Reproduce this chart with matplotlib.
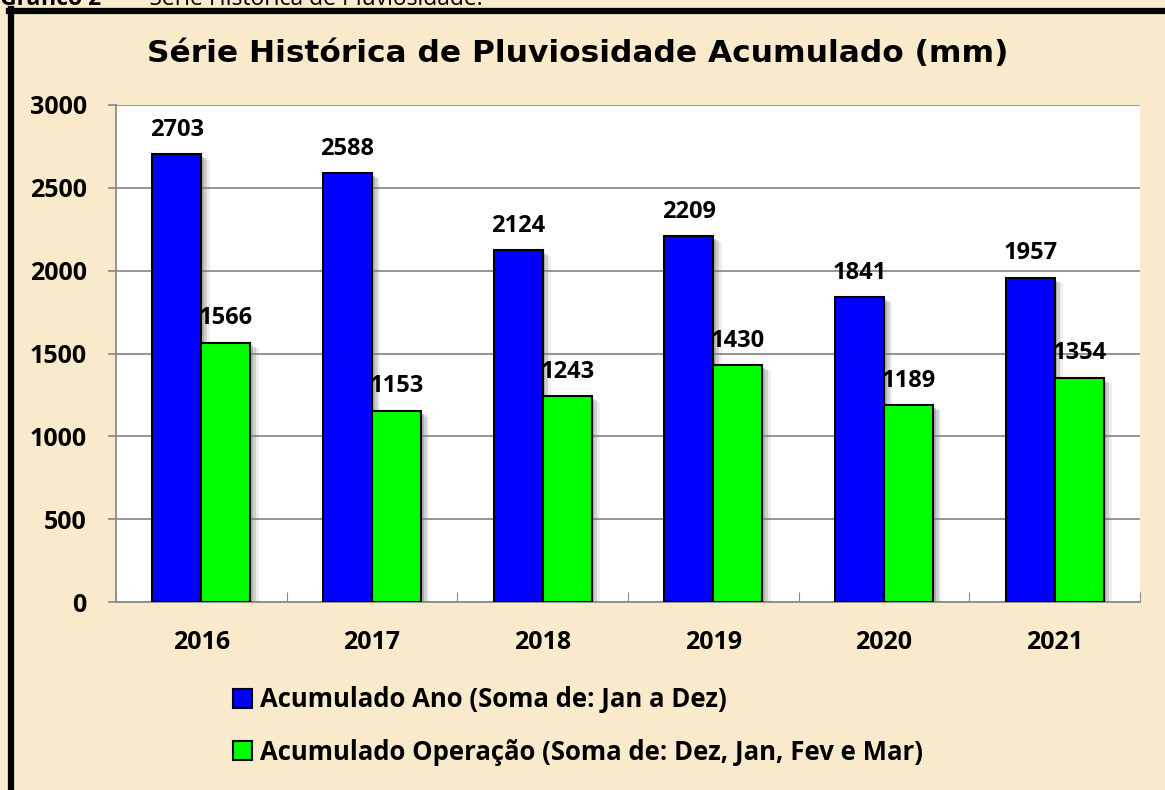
import matplotlib.pyplot as plt
import matplotlib.patheffects as pe
from matplotlib.lines import Line2D
import numpy as np

# data
anos = ["2016", "2017", "2018", "2019", "2020", "2021"]
acum_ano = [2703, 2588, 2124, 2209, 1841, 1957]
acum_operacao = [1566, 1153, 1243, 1430, 1189, 1354]
nome_ano = "Acumulado Ano (Soma de: Jan a Dez)"
nome_operacao = "Acumulado Operação (Soma de: Dez, Jan, Fev e Mar)"

W, H = 1165, 790
fig = plt.figure(figsize=(W / 100, H / 100), dpi=100)
fig.patch.set_facecolor("#F8EACB")

lab_font = "Open Sans"

# caption, cut off at top of the page
fig.text(0.0, 1 - 5 / H, "Gráfico 2", fontsize=16.5, fontweight="bold",
         family=lab_font, va="baseline", ha="left")
fig.text(126 / W, 1 - 5 / H, "–  Série Histórica de Pluviosidade.", fontsize=16.5,
         family=lab_font, va="baseline", ha="left")

# black frame (top and left)
fig.add_artist(Line2D([9 / W, 1], [1 - 11 / H, 1 - 11 / H], color="black", lw=4.5))
fig.add_artist(Line2D([11 / W, 11 / W], [0, 1 - 9 / H], color="black", lw=4.5))

ax = fig.add_axes([116 / W, 1 - 602 / H, (1140 - 116) / W, (602 - 105) / H])
ax.set_facecolor("white")

x = np.arange(len(anos))
w = 0.287
shadow = [pe.SimplePatchShadow(offset=(2, -2), shadow_rgbFace="#777777", alpha=0.35),
          pe.SimplePatchShadow(offset=(4, -3), shadow_rgbFace="#777777", alpha=0.25),
          pe.SimplePatchShadow(offset=(6, -4), shadow_rgbFace="#777777", alpha=0.12),
          pe.Normal()]
b1 = ax.bar(x - w / 2, acum_ano, w, color="#0000FF", edgecolor="black", lw=1.5,
            zorder=3, path_effects=shadow, label=nome_ano)
b2 = ax.bar(x + w / 2, acum_operacao, w, color="#00FF00", edgecolor="black", lw=1.5,
            zorder=3, path_effects=shadow, label=nome_operacao)

for bars in (b1, b2):
    for r in bars:
        ax.annotate(f"{int(r.get_height())}", (r.get_x() + r.get_width() / 2, r.get_height()),
                    xytext=(0, 9), textcoords="offset points", ha="center", va="bottom",
                    fontsize=17, fontweight="bold", family=lab_font, zorder=5)

ax.set_xlim(-0.5, len(anos) - 0.5)
ax.set_ylim(0, 3000)
ax.set_yticks(range(0, 3001, 500))
ax.yaxis.grid(True, color="#8C8C8C", lw=1.3, zorder=0)
ax.set_axisbelow(True)

ax.set_xticks(np.arange(-0.5, len(anos), 1.0))
ax.set_xticklabels([])
ax.set_xticks(x, minor=True)
ax.set_xticklabels(anos, minor=True)
ax.tick_params(axis="x", which="minor", length=0, pad=20)
ax.tick_params(axis="x", which="major", length=7, color="#8C8C8C", direction="in")
ax.tick_params(axis="y", length=0, pad=21)
for lab in ax.get_xticklabels(minor=True) + ax.get_yticklabels():
    lab.set_fontsize(18)
    lab.set_fontweight("bold")
    lab.set_family(lab_font)

for s in ("top", "right"):
    ax.spines[s].set_visible(False)
for s in ("left", "bottom"):
    ax.spines[s].set_color("#8C8C8C")
    ax.spines[s].set_linewidth(1.3)
# small outer tick marks on y axis
for yv in range(0, 3001, 500):
    ax.plot([-0.5 - 0.04, -0.5], [yv, yv], color="#8C8C8C", lw=1.3, clip_on=False, zorder=1)

fig.text(578 / W, 1 - 54 / H, "Série Histórica de Pluviosidade Acumulado (mm)",
         fontsize=22.5, fontweight="bold", ha="center", va="center", family="DejaVu Sans")

leg = fig.legend(handles=[b1, b2], loc="upper left", bbox_to_anchor=(210 / W, 1 - 663 / H),
                 frameon=False, prop={"family": lab_font, "weight": "bold", "size": 18.5},
                 handlelength=0.75, handleheight=0.75, handletextpad=0.3, labelspacing=1.0)
for h in leg.legend_handles:
    h.set_path_effects([])

fig.savefig("out.png", dpi=100, facecolor=fig.get_facecolor())
